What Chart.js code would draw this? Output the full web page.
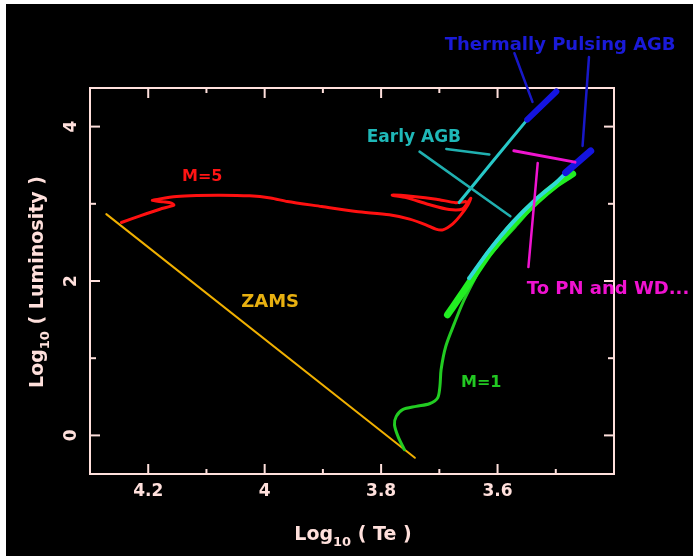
<!DOCTYPE html>
<html><head><meta charset="utf-8">
<script src="https://cdn.jsdelivr.net/npm/chart.js@4"></script>
<style>
html,body{margin:0;padding:0;background:#fff;width:693px;height:556px;overflow:hidden}
#wrap{position:absolute;left:6px;top:4px;width:687px;height:552px;background:#000}
canvas{display:block}
</style></head><body><div id="wrap"><canvas id="c" width="687" height="552"></canvas></div>
<script>
// ---------------- axis ticks ----------------
const xTickValues = [4.2, 4.0, 3.8, 3.6];
const xTickLabels = ['4.2', '4', '3.8', '3.6'];
const xMinorTicks = [4.1, 3.9, 3.7, 3.5];
const yTickValues = [0, 2, 4];
const yTickLabels = ['0', '2', '4'];
const yMinorTicks = [1, 3];

// ---------------- tracks (log Te, log L) ----------------
const zamsTe = [4.272, 3.742];
const zamsL  = [2.866, -0.290];

const m5Te = [4.246, 4.214, 4.180, 4.156, 4.160, 4.174, 4.193, 4.180, 4.151, 4.117, 4.077, 4.026, 3.990, 3.961, 3.902, 3.843, 3.786, 3.751, 3.723, 3.706, 3.694, 3.677, 3.663, 3.651, 3.646, 3.660, 3.683, 3.720, 3.757, 3.781, 3.745, 3.705, 3.672, 3.655];
const m5L  = [2.758, 2.844, 2.930, 2.982, 3.008, 3.025, 3.043, 3.064, 3.094, 3.107, 3.112, 3.103, 3.075, 3.030, 2.965, 2.900, 2.857, 2.801, 2.728, 2.672, 2.663, 2.741, 2.857, 2.986, 3.073, 2.935, 2.925, 2.995, 3.080, 3.112, 3.095, 3.060, 3.015, 3.030];
const m5EagbTe = [3.666, 3.607, 3.549];
const m5EagbL  = [3.016, 3.560, 4.090];
const m5TpTe = [3.549, 3.499];
const m5TpL  = [4.090, 4.455];

const m1Te = [3.760, 3.771, 3.777, 3.774, 3.763, 3.740, 3.717, 3.703, 3.699, 3.697, 3.689, 3.674, 3.660, 3.643, 3.626, 3.600, 3.570, 3.534, 3.500, 3.471];
const m1L  = [-0.185, -0.013, 0.138, 0.246, 0.333, 0.376, 0.410, 0.484, 0.635, 0.850, 1.152, 1.454, 1.713, 1.972, 2.209, 2.450, 2.700, 3.000, 3.220, 3.370];
const m1HbTe = [3.686, 3.668, 3.649, 3.614, 3.574, 3.534, 3.500, 3.471];
const m1HbL  = [1.562, 1.760, 1.972, 2.360, 2.727, 3.029, 3.245, 3.387];
const m1EagbTe = [3.649, 3.614, 3.574, 3.534, 3.500, 3.483];
const m1EagbL  = [2.036, 2.400, 2.760, 3.060, 3.270, 3.396];
const m1TpTe = [3.483, 3.440];
const m1TpL  = [3.404, 3.685];

// ---------------- pointer lines ----------------
const eagbPtr1Te = [3.734, 3.578]; const eagbPtr1L = [3.676, 2.840];
const eagbPtr2Te = [3.688, 3.614]; const eagbPtr2L = [3.710, 3.640];
const tpPtr1Te = [3.571, 3.540];   const tpPtr1L = [4.950, 4.320];
const tpPtr2Te = [3.443, 3.454];   const tpPtr2L = [4.900, 3.750];
const pnPtr1Te = [3.572, 3.467];   const pnPtr1L = [3.687, 3.540];
const pnPtr2Te = [3.531, 3.547];   const pnPtr2L = [3.530, 2.180];

// ---------------- labels ----------------
const noteTexts = ['Thermally Pulsing AGB', 'Early AGB', 'M=5', 'ZAMS', 'M=1', 'To PN and WD...'];
const noteTe    = [3.4925, 3.7437, 4.1073, 3.9906, 3.628, 3.4102];
const noteL     = [5.057, 3.862, 3.345, 1.727, 0.686, 1.886];

const axisColor = '#ffe0dc';
const noteStyles = [
  {color:'#1a1ad8', size:18},
  {color:'#1fb8b8', size:17},
  {color:'#ff1414', size:16},
  {color:'#e8b010', size:18},
  {color:'#22c822', size:16},
  {color:'#f012d0', size:18}
];

const pts = (xs, ys) => xs.map((x, i) => ({x: x, y: ys[i]}));
function ds(xs, ys, color, width, order, extra) {
  return Object.assign({
    data: pts(xs, ys), showLine: true, borderColor: color, backgroundColor: color,
    borderWidth: width, pointRadius: 0, fill: false, tension: 0, order: order,
    borderCapStyle: 'round', borderJoinStyle: 'round'
  }, extra || {});
}

const datasets = [
  ds(zamsTe, zamsL, '#f0b000', 2, 20),
  ds(m1Te, m1L, '#22cc22', 3, 19, {tension: 0.3}),
  ds(m1HbTe, m1HbL, '#22ee22', 7, 18, {tension: 0.2}),
  ds(m1EagbTe, m1EagbL, '#30d8d8', 4, 17, {tension: 0.2}),
  ds(m1TpTe, m1TpL, '#1414e0', 7, 16),
  ds(m5Te, m5L, '#ff1010', 3, 15, {tension: 0.25}),
  ds(m5EagbTe, m5EagbL, '#28c8c8', 3, 14),
  ds(m5TpTe, m5TpL, '#1414e0', 6, 13),
  ds(eagbPtr1Te, eagbPtr1L, '#20b0b0', 2.5, 12, {clip: false}),
  ds(eagbPtr2Te, eagbPtr2L, '#20b0b0', 2.5, 11, {clip: false}),
  ds(tpPtr1Te, tpPtr1L, '#1818c8', 2.5, 10, {clip: false}),
  ds(tpPtr2Te, tpPtr2L, '#1818c8', 2.5, 9, {clip: false}),
  ds(pnPtr1Te, pnPtr1L, '#f014d0', 3, 8, {clip: false}),
  ds(pnPtr2Te, pnPtr2L, '#f014d0', 2.5, 7, {clip: false})
];

const FONT = '"DejaVu Sans", sans-serif';

const framePlugin = {
  id: 'frame',
  beforeDatasetsDraw(chart) {
    const {ctx, chartArea: a, scales: {x, y}} = chart;
    ctx.save();
    ctx.strokeStyle = axisColor;
    ctx.lineWidth = 2;
    ctx.strokeRect(a.left, a.top, a.right - a.left, a.bottom - a.top);
    const seg = (x1, y1, x2, y2) => { ctx.beginPath(); ctx.moveTo(x1, y1); ctx.lineTo(x2, y2); ctx.stroke(); };
    const xt = (v, len) => { const p = x.getPixelForValue(v); seg(p, a.bottom, p, a.bottom - len); seg(p, a.top, p, a.top + len); };
    const yt = (v, len) => { const p = y.getPixelForValue(v); seg(a.left, p, a.left + len, p); seg(a.right, p, a.right - len, p); };
    xTickValues.forEach(v => xt(v, 10));
    xMinorTicks.forEach(v => xt(v, 5));
    yTickValues.forEach(v => yt(v, 10));
    yMinorTicks.forEach(v => yt(v, 6));
    ctx.restore();
  },
  afterDraw(chart) {
    const {ctx, scales: {x, y}} = chart;
    ctx.save();
    // annotations
    ctx.textAlign = 'center';
    ctx.textBaseline = 'middle';
    noteTexts.forEach((t, i) => {
      const s = noteStyles[i];
      ctx.font = 'bold ' + s.size + 'px ' + FONT;
      ctx.fillStyle = s.color;
      ctx.fillText(t, x.getPixelForValue(noteTe[i]), y.getPixelForValue(noteL[i]));
    });
    // axis titles with subscript
    const drawTitle = (rest, cx, by, rotate) => {
      ctx.save();
      ctx.translate(cx, by);
      if (rotate) ctx.rotate(-Math.PI / 2);
      ctx.fillStyle = axisColor;
      ctx.textAlign = 'left';
      ctx.textBaseline = 'alphabetic';
      const big = 'bold 19px ' + FONT, small = 'bold 13px ' + FONT;
      ctx.font = big; const w1 = ctx.measureText('Log').width; const w3 = ctx.measureText(rest).width;
      ctx.font = small; const w2 = ctx.measureText('10').width;
      let sx = -(w1 + w2 + w3) / 2;
      ctx.font = big; ctx.fillText('Log', sx, 0); sx += w1;
      ctx.font = small; ctx.fillText('10', sx, 6); sx += w2;
      ctx.font = big; ctx.fillText(rest, sx, 0);
      ctx.restore();
    };
    drawTitle(' ( Te )', 347, 536, false);
    drawTitle(' ( Luminosity )', 37, 278, true);
    ctx.restore();
  }
};

new Chart(document.getElementById('c'), {
  type: 'scatter',
  data: { datasets: datasets },
  options: {
    responsive: false,
    animation: false,
    events: [],
    layout: { padding: { left: 0, top: 84, right: 79, bottom: 0 } },
    plugins: { legend: { display: false }, tooltip: { enabled: false }, title: { display: false } },
    scales: {
      x: {
        type: 'linear', reverse: true, min: 3.4, max: 4.3,
        grid: { display: false, drawTicks: false },
        border: { display: false },
        afterBuildTicks: s => { s.ticks = xTickValues.map(v => ({value: v})); },
        afterFit: s => { s.height = 82; },
        ticks: {
          autoSkip: false, maxRotation: 0, minRotation: 0, padding: 7,
          color: axisColor, font: { family: FONT, size: 17, weight: 'bold' },
          callback: (v) => xTickLabels[xTickValues.indexOf(v)]
        }
      },
      y: {
        type: 'linear', min: -0.5, max: 4.5,
        grid: { display: false, drawTicks: false },
        border: { display: false },
        afterBuildTicks: s => { s.ticks = yTickValues.map(v => ({value: v})); },
        afterFit: s => { s.width = 84; },
        ticks: {
          autoSkip: false, minRotation: 90, maxRotation: 90, crossAlign: 'center', padding: 13,
          color: axisColor, font: { family: FONT, size: 17, weight: 'bold' },
          callback: (v) => yTickLabels[yTickValues.indexOf(v)]
        }
      }
    }
  },
  plugins: [framePlugin]
});
</script></body></html>
